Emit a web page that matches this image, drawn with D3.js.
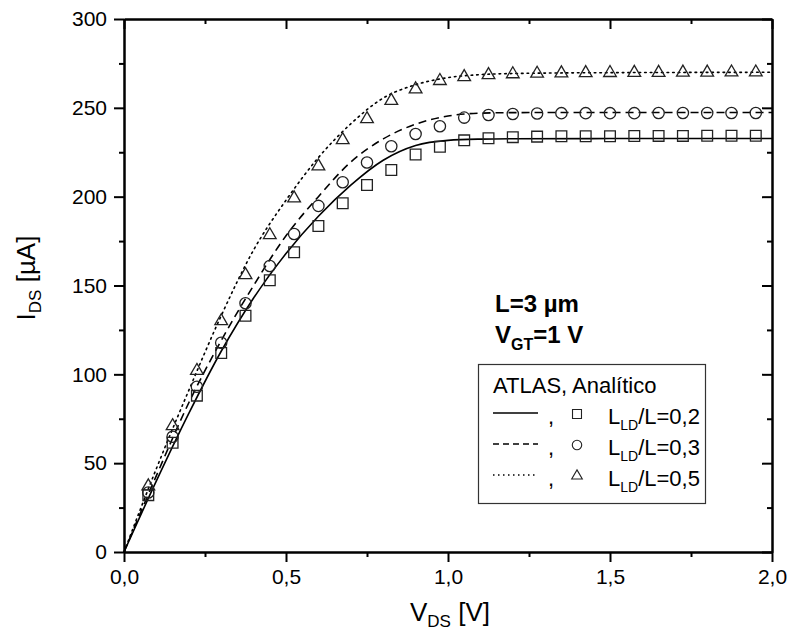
<!DOCTYPE html>
<html>
<head>
<meta charset="utf-8">
<script src="https://cdn.jsdelivr.net/npm/d3@7"></script>
<style>
  html, body { margin: 0; padding: 0; background: #fff; }
  svg { display: block; font-family: "Liberation Sans", Arial, sans-serif; }
</style>
</head>
<body>
<svg id="chart" width="792" height="641"></svg>
<script>
// ---------- data ----------
// ATLAS simulation points (markers)
const vdsPoints = [0.075, 0.15, 0.225, 0.3, 0.375, 0.45, 0.525, 0.6, 0.675, 0.75, 0.825, 0.9, 0.975,
                   1.05, 1.125, 1.2, 1.275, 1.35, 1.425, 1.5, 1.575, 1.65, 1.725, 1.8, 1.875, 1.95];
const atlas02 = [32, 61.5, 88, 112, 133, 153, 168.7, 183.5, 196.3, 206.6, 215, 223.7, 228.1,
                 231.7, 232.9, 233.5, 233.8, 234, 234, 234, 234.1, 234.2, 234.2, 234.3, 234.3, 234.3];
const atlas03 = [33.5, 64.9, 93, 117.8, 140, 161, 179, 194.8, 208.1, 219.2, 228.4, 235.3, 239.6,
                 244.5, 246, 246.5, 246.8, 247, 247, 247, 247, 247.1, 247.1, 247.1, 247.1, 247.1];
const atlas05 = [37, 70.9, 102, 130, 155.9, 178.4, 199.1, 217.1, 231.9, 243.7, 254, 260.5, 265.2,
                 267.4, 268.5, 269, 269.3, 269.5, 269.6, 269.7, 269.8, 269.8, 269.9, 269.9, 270, 270];

// Analytical model curves (lines)
const vdsModel = [0, 0.1, 0.2, 0.3, 0.4, 0.5, 0.6, 0.7, 0.8, 0.9, 1.0, 1.1, 1.2, 1.5, 2.0];
const model02 = [0, 40, 78, 113, 143, 168, 189, 206.5, 220.5, 228.8, 231.7, 232.4, 232.6, 232.7, 232.7];
const model03 = [0, 43, 84, 119, 150, 178, 200, 219.5, 232.5, 240.8, 245.4, 247, 247.3, 247.4, 247.4];
const model05 = [0, 47, 91, 133, 170, 198, 222, 241, 255.5, 263, 267, 268.7, 269.3, 269.8, 270];

const xMajorTicks = [0, 0.5, 1.0, 1.5, 2.0];
const xMinorTicks = [0.25, 0.75, 1.25, 1.75];
const yMajorTicks = [0, 50, 100, 150, 200, 250, 300];
const yMinorTicks = [25, 75, 125, 175, 225, 275];

const seriesNames = ["0,2", "0,3", "0,5"];
const dashStyles = ["none", "8,5", "1.6,4"];

// ---------- layout ----------
const svg = d3.select("#chart");
const X0 = 124, X1 = 772, Y0 = 552, Y1 = 19;
const x = d3.scaleLinear().domain([0, 2]).range([X0, X1]);
const y = d3.scaleLinear().domain([0, 300]).range([Y0, Y1]);
const fmtX = d => d3.format(".1f")(d).replace(".", ",");

function styleAxis(g) {
  g.selectAll(".domain").attr("stroke", "#000").attr("stroke-width", 2);
  g.selectAll(".tick line").attr("stroke", "#000").attr("stroke-width", 2);
  g.selectAll(".tick text").attr("fill", "#000").attr("font-size", 21)
    .attr("font-family", "'Liberation Sans', Arial, sans-serif");
}

// bottom axis
svg.append("g").attr("transform", `translate(0,${Y0})`)
  .call(d3.axisBottom(x).tickValues(xMajorTicks).tickFormat(fmtX).tickSize(10).tickSizeOuter(0).tickPadding(7))
  .call(styleAxis);
svg.append("g").attr("transform", `translate(0,${Y0})`)
  .call(d3.axisBottom(x).tickValues(xMinorTicks).tickFormat("").tickSize(5).tickSizeOuter(0))
  .call(styleAxis);
// top axis (inward ticks)
svg.append("g").attr("transform", `translate(0,${Y1})`)
  .call(d3.axisTop(x).tickValues(xMajorTicks).tickFormat("").tickSize(-10).tickSizeOuter(0))
  .call(styleAxis);
svg.append("g").attr("transform", `translate(0,${Y1})`)
  .call(d3.axisTop(x).tickValues(xMinorTicks).tickFormat("").tickSize(-5).tickSizeOuter(0))
  .call(styleAxis);
// left axis
svg.append("g").attr("transform", `translate(${X0},0)`)
  .call(d3.axisLeft(y).tickValues(yMajorTicks).tickFormat(d3.format("d")).tickSize(10).tickSizeOuter(0).tickPadding(7))
  .call(styleAxis);
svg.append("g").attr("transform", `translate(${X0},0)`)
  .call(d3.axisLeft(y).tickValues(yMinorTicks).tickFormat("").tickSize(5).tickSizeOuter(0))
  .call(styleAxis);
// right axis (inward ticks)
svg.append("g").attr("transform", `translate(${X1},0)`)
  .call(d3.axisRight(y).tickValues(yMajorTicks).tickFormat("").tickSize(-10).tickSizeOuter(0))
  .call(styleAxis);
svg.append("g").attr("transform", `translate(${X1},0)`)
  .call(d3.axisRight(y).tickValues(yMinorTicks).tickFormat("").tickSize(-5).tickSizeOuter(0))
  .call(styleAxis);

// ---------- model lines ----------
const models = [model02, model03, model05];
const line = d3.line().x(d => x(d[0])).y(d => y(d[1])).curve(d3.curveMonotoneX);
models.forEach((m, i) => {
  svg.append("path")
    .datum(vdsModel.map((v, k) => [v, m[k]]))
    .attr("d", line)
    .attr("fill", "none")
    .attr("stroke", "#000")
    .attr("stroke-width", 1.6)
    .attr("stroke-dasharray", dashStyles[i] === "none" ? null : dashStyles[i])
    .attr("stroke-linecap", i === 2 ? "round" : "butt");
});

// ---------- markers ----------
const atlas = [atlas02, atlas03, atlas05];
const symTypes = [d3.symbolSquare, d3.symbolCircle, d3.symbolTriangle];
const symSizes = [115, 100, 70];
atlas.forEach((s, i) => {
  const sym = d3.symbol().type(symTypes[i]).size(symSizes[i]);
  svg.append("g").selectAll("path")
    .data(vdsPoints.map((v, k) => [v, s[k]]))
    .join("path")
    .attr("transform", d => `translate(${x(d[0])},${y(d[1])})`)
    .attr("d", sym)
    .attr("fill", "none")
    .attr("stroke", "#222")
    .attr("stroke-width", 1.3);
});

// ---------- axis titles ----------
const xt = svg.append("text").attr("x", 450).attr("y", 621).attr("text-anchor", "middle")
  .attr("font-size", 26).attr("fill", "#000");
xt.append("tspan").text("V");
xt.append("tspan").attr("font-size", 17).attr("dy", 6).text("DS");
xt.append("tspan").attr("dy", -6).text(" [V]");

const yt = svg.append("text").attr("transform", "translate(35,278) rotate(-90)")
  .attr("text-anchor", "middle").attr("font-size", 26).attr("fill", "#000");
yt.append("tspan").text("I");
yt.append("tspan").attr("font-size", 17).attr("dy", 6).text("DS");
yt.append("tspan").attr("dy", -6).text(" [\u00b5A]");

// ---------- annotation ----------
svg.append("text").attr("x", 495).attr("y", 312).attr("font-size", 24).attr("font-weight", "bold")
  .attr("fill", "#000").text("L=3 \u00b5m");
const vg = svg.append("text").attr("x", 495).attr("y", 343).attr("font-size", 24).attr("font-weight", "bold")
  .attr("fill", "#000");
vg.append("tspan").text("V");
vg.append("tspan").attr("font-size", 16).attr("dy", 7).text("GT");
vg.append("tspan").attr("dy", -7).text("=1 V");

// ---------- legend ----------
const lg = svg.append("g");
lg.append("rect").attr("x", 478.5).attr("y", 364.5).attr("width", 227).attr("height", 139)
  .attr("fill", "#fff").attr("stroke", "#333").attr("stroke-width", 1.2);
lg.append("text").attr("x", 493).attr("y", 393).attr("font-size", 22).attr("fill", "#000")
  .text("ATLAS, Anal\u00edtico");
const rowY = [424, 455, 486];
seriesNames.forEach((nm, i) => {
  const by = rowY[i];
  lg.append("line").attr("x1", 493).attr("x2", 538).attr("y1", by - 11).attr("y2", by - 11)
    .attr("stroke", "#000").attr("stroke-width", 1.3)
    .attr("stroke-dasharray", dashStyles[i] === "none" ? null : (i === 1 ? "6,4" : "1.5,3.5"));
  lg.append("text").attr("x", 548).attr("y", by).attr("font-size", 22).attr("fill", "#000").text(",");
  lg.append("path").attr("transform", `translate(577,${by - 10})`)
    .attr("d", d3.symbol().type(symTypes[i]).size(symSizes[i] * 0.7))
    .attr("fill", "none").attr("stroke", "#222").attr("stroke-width", 1.1);
  const t = lg.append("text").attr("x", 608).attr("y", by).attr("font-size", 22).attr("fill", "#000");
  t.append("tspan").text("L");
  t.append("tspan").attr("font-size", 14).attr("dy", 6).text("LD");
  t.append("tspan").attr("dy", -6).text("/L=" + nm);
});
</script>
</body>
</html>
